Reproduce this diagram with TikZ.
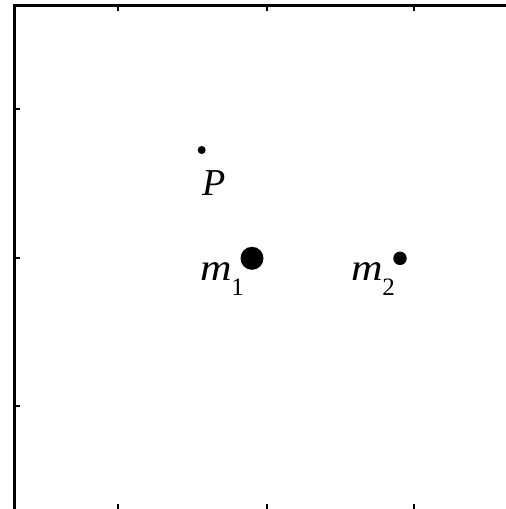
\documentclass[tikz,border=0pt]{standalone}
\usepackage{fontspec}
\usepackage{graphicx}
\setmainfont{Liberation Serif}
\tikzset{
  axisline/.style={line width=2.7pt, line cap=rect},
  tickmark/.style={line width=2pt},
  dot/.style={circle, fill=black, inner sep=0pt},
  lbl/.style={anchor=base west, inner sep=0pt, font=\fontsize{38}{40}\selectfont\itshape}
}
\newcommand{\mvar}{\scalebox{1.15}[1]{m}}
\newcommand{\sbs}[1]{\kern-1pt\raisebox{-15pt}{\fontsize{25}{26}\selectfont\upshape #1}}
\begin{document}
\begin{tikzpicture}[x=1pt,y=-1pt]
\useasboundingbox (0,0) rectangle (506,509);
\coordinate (tl) at (14.3,5.3);
\coordinate (tr) at (510,5.3);
\coordinate (bl) at (14.3,512);
\draw[axisline] (tr) -- (tl) -- (bl);
\foreach \x in {118,267,414} {
  \draw[tickmark] (\x,5) -- (\x,10.5);
  \draw[tickmark] (\x,504) -- (\x,509);
}
\foreach \y in {109,258,406} {
  \draw[tickmark] (14,\y) -- (19.5,\y);
}
\node[dot, minimum size=8pt] (P) at (201.7,150) {};
\node[dot, minimum size=23pt] (m1) at (252,258.3) {};
\node[dot, minimum size=13.5pt] (m2) at (400,258.3) {};
\node[lbl] (Pl) at (202,195.5) {P};
\node[lbl] (m1l) at (200.5,280) {\mvar\sbs{1}};
\node[lbl] (m2l) at (351.5,280) {\mvar\sbs{2}};
\end{tikzpicture}
\end{document}
